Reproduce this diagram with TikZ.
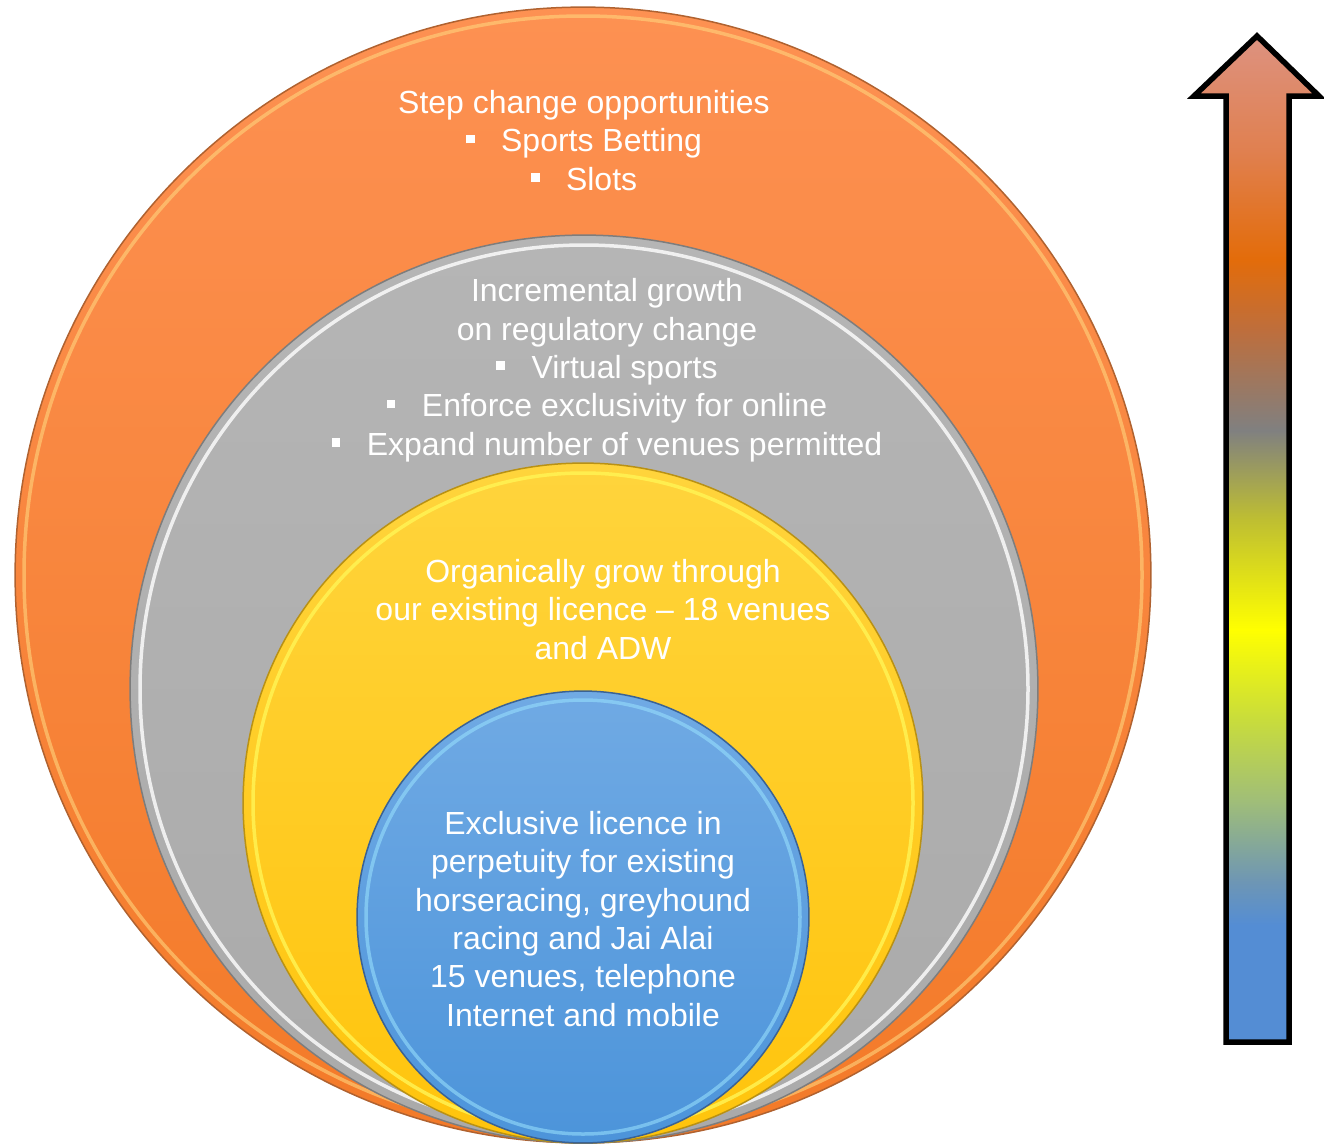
\documentclass[tikz,border=0pt]{standalone}
\usepackage{fontspec}
\setmainfont{Liberation Sans}
\usetikzlibrary{positioning}

% ring fills and outlines
\definecolor{orangeTop}{RGB}{253,145,82}
\definecolor{orangeBot}{RGB}{243,122,40}
\definecolor{orangeEdge}{RGB}{176,98,48}
\definecolor{orangeHl}{RGB}{255,212,125}
\definecolor{grayTop}{RGB}{181,181,181}
\definecolor{grayBot}{RGB}{170,170,170}
\definecolor{grayEdge}{RGB}{125,125,125}
\definecolor{yellowTop}{RGB}{255,212,60}
\definecolor{yellowBot}{RGB}{255,196,12}
\definecolor{yellowEdge}{RGB}{185,145,20}
\definecolor{yellowHl}{RGB}{255,245,85}
\definecolor{blueTop}{RGB}{112,170,228}
\definecolor{blueBot}{RGB}{76,148,218}
\definecolor{blueEdge}{RGB}{58,98,148}
\definecolor{blueHl}{RGB}{150,222,252}

% colours along the arrow
\definecolor{barSalmon}{RGB}{221,146,128}
\definecolor{barPeach}{RGB}{224,128,80}
\definecolor{barOrange}{RGB}{227,108,10}
\definecolor{barBrown}{RGB}{190,110,60}
\definecolor{barGray}{RGB}{128,128,128}
\definecolor{barOlive}{RGB}{190,190,50}
\definecolor{barYellow}{RGB}{255,255,0}
\definecolor{barLime}{RGB}{200,220,60}
\definecolor{barSage}{RGB}{160,190,120}
\definecolor{barTeal}{RGB}{110,150,180}
\definecolor{barBlue}{RGB}{84,141,212}

\pgfdeclareverticalshading{rankBar}{100bp}{%
  color(0bp)=(barBlue); color(30.8bp)=(barBlue); color(33bp)=(barTeal);
  color(37bp)=(barSage); color(41bp)=(barLime); color(45.5bp)=(barYellow);
  color(51bp)=(barOlive); color(55.4bp)=(barGray); color(60.4bp)=(barBrown);
  color(63.9bp)=(barOrange); color(69.3bp)=(barPeach); color(75bp)=(barSalmon);
  color(100bp)=(barSalmon)}

% small square bullet
\newcommand{\sqb}{\raisebox{0.26em}{\rule{0.27em}{0.27em}}\hspace{0.83em}}

\begin{document}
\begin{tikzpicture}[x=0.02cm, y=-0.02cm,
    ringNode/.style={circle, inner sep=0pt, line width=0.03cm},
    hlRing/.style={line width=0.07cm, opacity=0.6},
    txtNode/.style={anchor=base, align=center, inner sep=0pt, text=white,
                    font=\fontsize{18.2}{21.8}\selectfont}
]
    \useasboundingbox (0,0) rectangle (1324,1143);

    % nested rings, all touching at the bottom
    \node[ringNode, draw=orangeEdge, top color=orangeTop, bottom color=orangeBot,
          minimum size=22.72cm] (rO) at (583,575) {};
    \draw[hlRing, orangeHl] (rO.center) circle[radius=559];
    \node[ringNode, draw=grayEdge, top color=grayTop, bottom color=grayBot,
          minimum size=18.16cm] (rG) at (584,689) {};
    \draw[hlRing, white, opacity=0.8] (rG.center) circle[radius=444];
    \node[ringNode, draw=yellowEdge, top color=yellowTop, bottom color=yellowBot,
          minimum size=13.6cm] (rY) at (583,803) {};
    \draw[hlRing, yellowHl, opacity=0.8] (rY.center) circle[radius=330];
    \node[ringNode, draw=blueEdge, top color=blueTop, bottom color=blueBot,
          minimum size=9.04cm] (rB) at (583,917) {};
    \draw[hlRing, blueHl] (rB.center) circle[radius=217];

    % ring labels (base = baseline of the last line)
    \node[txtNode] (tO) at (584,190) {Step change opportunities\\
        \sqb Sports Betting\\ \sqb Slots};
    \node[txtNode] (tG) at (607,455) {Incremental growth\\ on regulatory change\\
        \sqb Virtual sports\\ \sqb Enforce exclusivity for online\\
        \sqb Expand number of venues permitted};
    \node[txtNode] (tY) at (603,659) {Organically grow through\\
        our existing licence -- 18 venues\\ and ADW};
    \node[txtNode] (tB) at (583,1026) {Exclusive licence in\\ perpetuity for existing\\
        horseracing, greyhound\\ racing and Jai Alai\\ 15 venues, telephone\\
        Internet and mobile};

    % upward arrow
    \shade[shading=rankBar, draw=black, line width=0.11cm, miter limit=20]
        (1226,1042) -- (1226,96) -- (1194,96) -- (1257,36) -- (1319,96)
        -- (1289,96) -- (1289,1042) -- cycle;
\end{tikzpicture}
\end{document}
